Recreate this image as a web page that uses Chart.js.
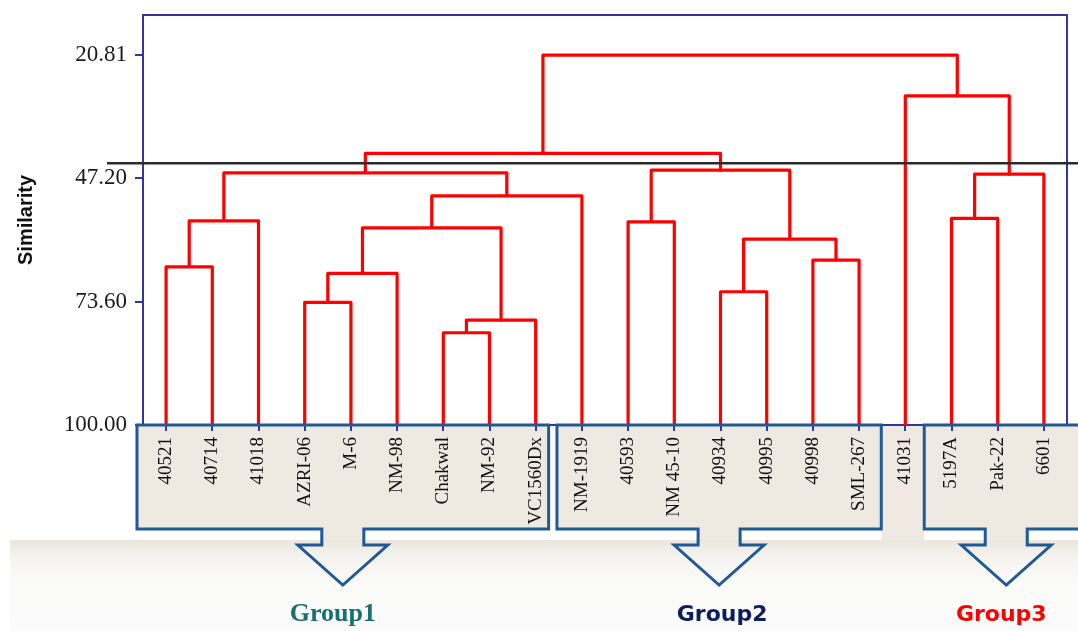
<!DOCTYPE html>
<html>
<head>
<meta charset="utf-8">
<script src="https://cdn.jsdelivr.net/npm/chart.js@4.4.1/dist/chart.umd.min.js"></script>
<style>
  html, body { margin: 0; padding: 0; background: #ffffff; }
  #wrap { position: relative; width: 1078px; height: 631px; }
</style>
</head>
<body>
<div id="wrap"><canvas id="dendro"></canvas></div>
<script>
// Genotypes in dendrogram leaf order
const leafLabels = ['40521', '40714', '41018', 'AZRI-06', 'M-6', 'NM-98', 'Chakwal', 'NM-92', 'VC1560Dx',
  'NM-1919', '40593', 'NM 45-10', '40934', '40995', '40998', 'SML-267', '41031', '5197A', 'Pak-22', '6601'];

// Agglomeration steps: node ids 0..19 are leaves, merge k creates node 20 + k
const mergeLeft  = [6, 20, 3, 12, 22, 0, 14, 23, 24, 10, 25, 17, 28, 31, 30, 29, 34, 16, 36];
const mergeRight = [7, 8, 4, 13, 5, 1, 15, 26, 21, 11, 2, 18, 9, 19, 32, 27, 35, 33, 37];
const mergeSimilarity = [80.24, 77.53, 73.75, 71.47, 67.54, 66.12, 64.69, 60.19, 57.77, 56.49,
  56.27, 55.76, 50.92, 46.28, 46.00, 45.42, 41.85, 29.52, 20.81];

// Similarity axis ticks and the cut level
const yTickValues = [20.81, 47.20, 73.60, 100.00];
const cutSimilarity = 43.93;

// Groups marked below the leaves
const groupNames = ['Group1', 'Group2', 'Group3'];
const groupFirstLeaf = [0, 9, 17];
const groupLastLeaf = [8, 15, 19];

// ---- styling ----
const RED = '#ff0000';
const FRAME = '#35359b';
const BOX_LINE = '#1f5a97';
const BEIGE = '#eeeae1';
const groupStyle = [
  { padL: 0.63, padR: 0.28, shift: -10, color: '#17706e', font: 'bold 26px "Liberation Serif", serif' },
  { padL: 0.54, padR: 0.48, shift: 3, color: '#0c1f5c', font: 'bold 22px "DejaVu Sans", sans-serif' },
  { padL: 0.59, padR: 0.96, shift: -5, color: '#ff0000', font: 'bold 22px "DejaVu Sans", sans-serif' }
];

// Build the U-shaped links, placing each merged node midway between its children
const nodeX = leafLabels.map((_, i) => i);
const nodeY = leafLabels.map(() => 100);
const linkDatasets = mergeLeft.map((a, k) => {
  const b = mergeRight[k];
  const s = mergeSimilarity[k];
  const ds = {
    data: [
      { x: nodeX[a], y: nodeY[a] },
      { x: nodeX[a], y: s },
      { x: nodeX[b], y: s },
      { x: nodeX[b], y: nodeY[b] }
    ],
    borderColor: RED,
    borderWidth: 3.2,
    borderJoinStyle: 'round',
    pointRadius: 0,
    tension: 0,
    fill: false
  };
  nodeX.push((nodeX[a] + nodeX[b]) / 2);
  nodeY.push(s);
  return ds;
});

const decorPlugin = {
  id: 'decor',
  beforeDraw(chart) {
    const { ctx } = chart;
    const xs = chart.scales.x;
    const top = chart.chartArea.bottom;
    const boxBottom = 529;
    ctx.save();
    ctx.fillStyle = '#ffffff';
    ctx.fillRect(0, 0, chart.width, chart.height);
    // beige label panels
    ctx.fillStyle = BEIGE;
    const boxes = groupNames.map((_, g) => {
      const st = groupStyle[g];
      const l = xs.getPixelForValue(groupFirstLeaf[g] - st.padL);
      const r = xs.getPixelForValue(groupLastLeaf[g] + st.padR);
      return { l, r, c: (l + r) / 2 };
    });
    boxes.forEach(b => {
      ctx.fillRect(b.l, top, b.r - b.l, boxBottom - top);
      ctx.fillRect(b.c - 21, boxBottom - 2, 42, 18);
    });
    ctx.fillRect(boxes[1].r, top, boxes[2].l - boxes[1].r, 540 - top);
    // soft band along the bottom
    const grad = ctx.createLinearGradient(0, 540, 0, chart.height);
    grad.addColorStop(0, '#ebe7dd');
    grad.addColorStop(0.2, '#f6f4f0');
    grad.addColorStop(0.45, '#fafaf9');
    grad.addColorStop(1, '#fbfbfb');
    ctx.fillStyle = grad;
    ctx.fillRect(10, 540, chart.width - 10, chart.height - 540);
    ctx.restore();
  },
  beforeDatasetsDraw(chart) {
    const { ctx, chartArea: a } = chart;
    ctx.save();
    ctx.strokeStyle = FRAME;
    ctx.lineWidth = 2;
    ctx.strokeRect(a.left, a.top, a.right - a.left, a.bottom - a.top);
    ctx.restore();
  },
  afterDatasetsDraw(chart) {
    const { ctx, chartArea: a } = chart;
    const y = chart.scales.y.getPixelForValue(cutSimilarity);
    ctx.save();
    ctx.strokeStyle = '#2a2a2a';
    ctx.lineWidth = 2.5;
    ctx.beginPath();
    ctx.moveTo(a.left - 36, y);
    ctx.lineTo(chart.width, y);
    ctx.stroke();
    ctx.restore();
  },
  afterDraw(chart) {
    const { ctx } = chart;
    const xs = chart.scales.x;
    const top = chart.chartArea.bottom;
    const boxBottom = 529, headTop = 545, tipY = 585;
    ctx.save();
    ctx.strokeStyle = BOX_LINE;
    ctx.lineWidth = 3;
    ctx.lineJoin = 'miter';
    groupNames.forEach((name, g) => {
      const st = groupStyle[g];
      const l = xs.getPixelForValue(groupFirstLeaf[g] - st.padL);
      const r = xs.getPixelForValue(groupLastLeaf[g] + st.padR);
      const c = (l + r) / 2;
      ctx.beginPath();
      ctx.moveTo(l, top);
      ctx.lineTo(r, top);
      ctx.lineTo(r, boxBottom);
      ctx.lineTo(c + 21, boxBottom);
      ctx.lineTo(c + 21, headTop);
      ctx.lineTo(c + 45, headTop);
      ctx.lineTo(c, tipY);
      ctx.lineTo(c - 45, headTop);
      ctx.lineTo(c - 21, headTop);
      ctx.lineTo(c - 21, boxBottom);
      ctx.lineTo(l, boxBottom);
      ctx.closePath();
      ctx.stroke();
      ctx.fillStyle = st.color;
      ctx.font = st.font;
      ctx.textAlign = 'center';
      ctx.textBaseline = 'alphabetic';
      ctx.fillText(name, c + st.shift, 621);
    });
    ctx.restore();
  }
};

new Chart(document.getElementById('dendro'), {
  type: 'line',
  data: { datasets: linkDatasets },
  options: {
    responsive: true,
    maintainAspectRatio: false,
    animation: false,
    layout: { padding: { left: 0, top: 15, right: 11, bottom: 0 } },
    plugins: { legend: { display: false }, tooltip: { enabled: false } },
    scales: {
      x: {
        type: 'linear',
        min: -0.5,
        max: 19.5,
        afterBuildTicks: axis => { axis.ticks = leafLabels.map((_, i) => ({ value: i })); },
        afterFit: axis => {
          axis.height = 206;
          axis.paddingLeft = 0;
          axis.paddingRight = 0;
        },
        border: { display: false },
        grid: { drawOnChartArea: false, drawTicks: true, tickLength: 6, color: FRAME, lineWidth: 2 },
        ticks: {
          autoSkip: false,
          minRotation: 90,
          maxRotation: 90,
          padding: 6,
          color: '#111111',
          font: { family: '"Liberation Serif", serif', size: 19 },
          callback: v => leafLabels[v]
        }
      },
      y: {
        type: 'linear',
        reverse: true,
        min: 12.2,
        max: 100,
        afterBuildTicks: axis => { axis.ticks = yTickValues.map(v => ({ value: v })); },
        afterFit: axis => {
          axis.width = 143;
          axis.paddingTop = 0;
          axis.paddingBottom = 0;
        },
        border: { display: false },
        grid: { drawOnChartArea: false, drawTicks: true, tickLength: 8, color: FRAME, lineWidth: 2 },
        ticks: {
          padding: 8,
          color: '#1a1a1a',
          font: { family: '"Liberation Serif", serif', size: 23 },
          callback: v => Number(v).toFixed(2)
        },
        title: {
          display: true,
          text: 'Similarity',
          color: '#111111',
          padding: { top: 14, bottom: 0 },
          font: { family: '"Liberation Sans", Arial, sans-serif', size: 20, weight: 'bold' }
        }
      }
    }
  },
  plugins: [decorPlugin]
});
</script>
</body>
</html>
